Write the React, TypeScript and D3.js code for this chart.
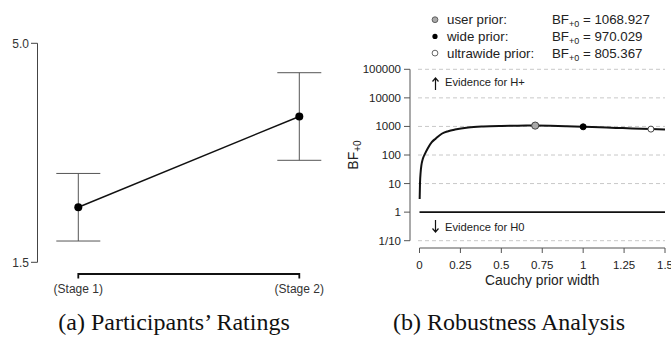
import React from 'react';
import * as d3 from 'd3';

// panel (a): participants' ratings
const stages = ['(Stage 1)', '(Stage 2)'];
const ratingMeans = [2.38, 3.83];
const ratingLower = [1.84, 3.13];
const ratingUpper = [2.92, 4.53];
const ratingTicks = [1.5, 5.0];

// panel (b): robustness analysis
const priorWidths = [0.001, 0.003, 0.007, 0.012, 0.02, 0.034, 0.05, 0.075, 0.1, 0.136, 0.175, 0.217, 0.298, 0.39, 0.5, 0.6, 0.707, 0.8, 0.9, 1.0, 1.1, 1.2, 1.3, 1.414, 1.5];
const bfValues = [2.9, 10, 25, 45, 72, 112, 170, 282, 380, 555, 680, 780, 920, 1000, 1045, 1065, 1069, 1050, 1010, 970, 930, 890, 850, 805, 775];
const bfTicks = [0.1, 1, 10, 100, 1000, 10000, 100000];
const bfTickLabels = ['1/10', '1', '10', '100', '1000', '10000', '100000'];
const widthTicks = [0, 0.25, 0.5, 0.75, 1, 1.25, 1.5];
const widthTickLabels = ['0', '0.25', '0.5', '0.75', '1', '1.25', '1.5'];
const priorNames = ['user prior:', 'wide prior:', 'ultrawide prior:'];
const priorR = [0.707, 1.0, 1.414];
const priorBF = [1068.927, 970.029, 805.367];
const priorFill = ['#aaaaaa', '#000000', '#ffffff'];

const sans = 'Liberation Sans, Arial, sans-serif';
const serif = 'Liberation Serif, Times New Roman, serif';

const App = () => {
  // left panel scales
  const xa = d3.scalePoint().domain(stages).range([78.3, 299.3]);
  const ya = d3.scaleLinear().domain([1.5, 5.0]).range([262.3, 43.3]);
  const ratingLine = d3.line<number>().x((_, i) => xa(stages[i])!).y((d) => ya(d));

  // right panel scales
  const xb = d3.scaleLinear().domain([0, 1.5]).range([419.5, 665]);
  const yb = d3.scaleLog().domain([0.1, 100000]).range([240.7, 69.3]);
  const bfLine = d3
    .line<number>()
    .x((d) => xb(d))
    .y((_, i) => yb(bfValues[i]))
    .curve(d3.curveMonotoneX);

  return (
    <svg width={671} height={337} style={{ position: 'absolute', left: 0, top: 0, background: 'white' }}>
      {/* ---- panel (a) ---- */}
      <g fontFamily={sans} fontSize={12} fill="#333">
        <line x1={37.5} x2={37.5} y1={ya(5.0)} y2={ya(1.5)} stroke="#444" strokeWidth={1} />
        {ratingTicks.map((t) => (
          <g key={t}>
            <line x1={31} x2={37.5} y1={ya(t)} y2={ya(t)} stroke="#444" />
            <text x={29} y={ya(t)} dy="0.35em" textAnchor="end">
              {t.toFixed(1)}
            </text>
          </g>
        ))}
        <path
          d={`M${xa(stages[0])},278.5V274H${xa(stages[1])}V278.5`}
          fill="none"
          stroke="#111"
          strokeWidth={1.8}
        />
        {stages.map((s) => (
          <text key={s} x={xa(s)} y={289} dy="0.35em" textAnchor="middle">
            {s}
          </text>
        ))}
        {stages.map((s, i) => (
          <g key={s} stroke="#555" strokeWidth={1}>
            <line x1={xa(s)} x2={xa(s)} y1={ya(ratingLower[i])} y2={ya(ratingUpper[i])} />
            <line x1={xa(s)! - 22} x2={xa(s)! + 22} y1={ya(ratingLower[i])} y2={ya(ratingLower[i])} />
            <line x1={xa(s)! - 22} x2={xa(s)! + 22} y1={ya(ratingUpper[i])} y2={ya(ratingUpper[i])} />
          </g>
        ))}
        <path d={ratingLine(ratingMeans) || ''} fill="none" stroke="#111" strokeWidth={1.4} />
        {ratingMeans.map((m, i) => (
          <circle key={i} cx={xa(stages[i])} cy={ya(m)} r={4} fill="#000" />
        ))}
      </g>
      <text x={174} y={330} textAnchor="middle" fontFamily={serif} fontSize={24} fill="#111">
        (a) Participants’ Ratings
      </text>

      {/* ---- panel (b) ---- */}
      <g fontFamily={sans} fill="#222">
        {/* legend */}
        {priorNames.map((n, i) => (
          <g key={n}>
            <circle
              cx={435}
              cy={19.7 + i * 16.7}
              r={i === 1 ? 2.6 : 2.9}
              fill={priorFill[i]}
              stroke={i === 1 ? 'none' : '#555'}
              strokeWidth={0.9}
            />
            <text x={447} y={19.7 + i * 16.7} dy="0.35em" fontSize={13.3}>
              {n}
            </text>
            <text x={552} y={19.7 + i * 16.7} dy="0.35em" fontSize={13.3}>
              BF
              <tspan fontSize={9} dy={3}>
                +0
              </tspan>
              <tspan dy={-3}> = {priorBF[i].toFixed(3)}</tspan>
            </text>
          </g>
        ))}

        {/* grid */}
        {bfTicks
          .filter((t) => t !== 1)
          .map((t) => (
            <line key={t} x1={418} x2={665} y1={yb(t)} y2={yb(t)} stroke="#c8c8c8" strokeDasharray="4,3" />
          ))}
        <line x1={xb(0)} x2={665} y1={yb(1)} y2={yb(1)} stroke="#111" strokeWidth={1.6} />

        {/* y axis */}
        <line x1={410} x2={410} y1={yb(100000)} y2={yb(0.1)} stroke="#555" />
        {bfTicks.map((t, i) => (
          <g key={t}>
            <line x1={404} x2={410} y1={yb(t)} y2={yb(t)} stroke="#555" />
            <text x={401} y={yb(t)} dy="0.35em" textAnchor="end" fontSize={11.5}>
              {bfTickLabels[i]}
            </text>
          </g>
        ))}
        <text transform="translate(358,155) rotate(-90)" textAnchor="middle" fontSize={14}>
          BF
          <tspan fontSize={10} dy={3}>
            +0
          </tspan>
        </text>

        {/* x axis */}
        <line x1={xb(0)} x2={xb(1.5)} y1={248} y2={248} stroke="#555" />
        {widthTicks.map((t, i) => (
          <g key={t}>
            <line x1={xb(t)} x2={xb(t)} y1={248} y2={253} stroke="#555" />
            <text x={xb(t)} y={265} dy="0.35em" textAnchor="middle" fontSize={11.5}>
              {widthTickLabels[i]}
            </text>
          </g>
        ))}
        <text x={xb(0.75)} y={280} dy="0.35em" textAnchor="middle" fontSize={13.8}>
          Cauchy prior width
        </text>

        {/* evidence annotations */}
        <path d="M435.5,90V78M432.5,81.5L435.5,78L438.5,81.5" fill="none" stroke="#111" strokeWidth={1.2} />
        <text x={445} y={82} dy="0.35em" fontSize={11.2}>
          Evidence for H+
        </text>
        <path d="M435.5,220V232M432.5,228.5L435.5,232L438.5,228.5" fill="none" stroke="#111" strokeWidth={1.2} />
        <text x={445} y={227} dy="0.35em" fontSize={11.2}>
          Evidence for H0
        </text>

        {/* robustness curve */}
        <path d={bfLine(priorWidths) || ''} fill="none" stroke="#111" strokeWidth={2} />
        {priorR.map((r, i) => (
          <circle
            key={r}
            cx={xb(r)}
            cy={yb(priorBF[i])}
            r={i === 0 ? 3.6 : 3}
            fill={priorFill[i]}
            stroke={i === 1 ? '#000' : '#444'}
            strokeWidth={1}
          />
        ))}
      </g>
      <text x={509} y={330} textAnchor="middle" fontFamily={serif} fontSize={24} fill="#111">
        (b) Robustness Analysis
      </text>
    </svg>
  );
};

export default App;
